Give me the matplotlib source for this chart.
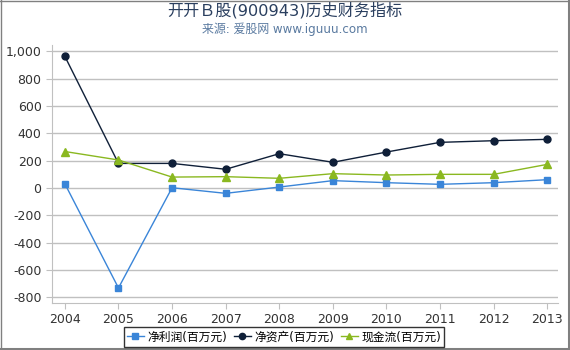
import matplotlib
matplotlib.use("Agg")
import matplotlib.pyplot as plt
from matplotlib.ticker import FuncFormatter
from matplotlib.lines import Line2D

plt.rcParams['font.family'] = ['DejaVu Sans', 'Noto Sans CJK SC']

years = [2004, 2005, 2006, 2007, 2008, 2009, 2010, 2011, 2012, 2013]
net_profit = [31, -731, 2, -39, 7, 54, 39, 27, 39, 61]
net_assets = [963, 180, 180, 137, 251, 188, 263, 334, 346, 356]
cash_flow = [267, 205, 80, 83, 71, 105, 95, 100, 100, 173]

labels = ["净利润(百万元)", "净资产(百万元)", "现金流(百万元)"]
colors = ["#3a85d8", "#0f1f38", "#8ab820"]

fig = plt.figure(figsize=(5.7, 3.5), dpi=100)
ax = fig.add_axes([52 / 570, 1 - 303 / 350, 506 / 570, 258 / 350])

ax.plot(years, net_profit, color=colors[0], marker='s', markersize=4.6, linewidth=1, label=labels[0])
ax.plot(years, net_assets, color=colors[1], marker='o', markersize=5, linewidth=1, label=labels[1])
ax.plot(years, cash_flow, color=colors[2], marker='^', markersize=5.5, linewidth=1, label=labels[2])

ax.set_xlim(2003.76, 2013.2)
ax.set_ylim(-841, 1046)
ax.set_xticks(years)
ax.set_yticks(range(-800, 1001, 200))
ax.yaxis.set_major_formatter(FuncFormatter(lambda v, p: f"{int(v):,}"))
ax.grid(axis='y', color='#c0c0c0', linewidth=1)
ax.set_axisbelow(True)
for s in ['top', 'right']:
    ax.spines[s].set_visible(False)
for s in ['left', 'bottom']:
    ax.spines[s].set_color('#c0c0c0')
ax.tick_params(axis='both', colors='#c0c0c0', labelcolor='#333333', labelsize=9, length=4)

fig.text(0.5, 1 - 10.5 / 350, "开开Ｂ股(900943)历史财务指标", ha='center', va='center', fontsize=11.6, color='#2a3f5f')
fig.text(0.5, 1 - 29 / 350, "来源: 爱股网 www.iguuu.com", ha='center', va='center', fontsize=8.6, color='#5a7aa0')

leg = fig.legend(loc='center', bbox_to_anchor=(284 / 570, 1 - 337 / 350), ncol=3, fontsize=8.5,
                 frameon=True, fancybox=False, edgecolor='black', handlelength=1.4, columnspacing=0.6,
                 handletextpad=0.3, borderpad=0.3, borderaxespad=0, markerscale=0.9)
leg.get_frame().set_linewidth(1)

# outer border: thin on top/left, heavier on right/bottom
border = '#808080'
fig.add_artist(Line2D([0.5 / 570, 0.5 / 570], [0, 1], color=border, linewidth=1))
fig.add_artist(Line2D([0, 1], [1 - 0.5 / 350, 1 - 0.5 / 350], color=border, linewidth=1))
fig.add_artist(Line2D([1 - 1.5 / 570, 1 - 1.5 / 570], [0, 1], color=border, linewidth=2.2))
fig.add_artist(Line2D([0, 1], [1.5 / 350, 1.5 / 350], color=border, linewidth=2.2))

fig.savefig("out.png", dpi=100)
